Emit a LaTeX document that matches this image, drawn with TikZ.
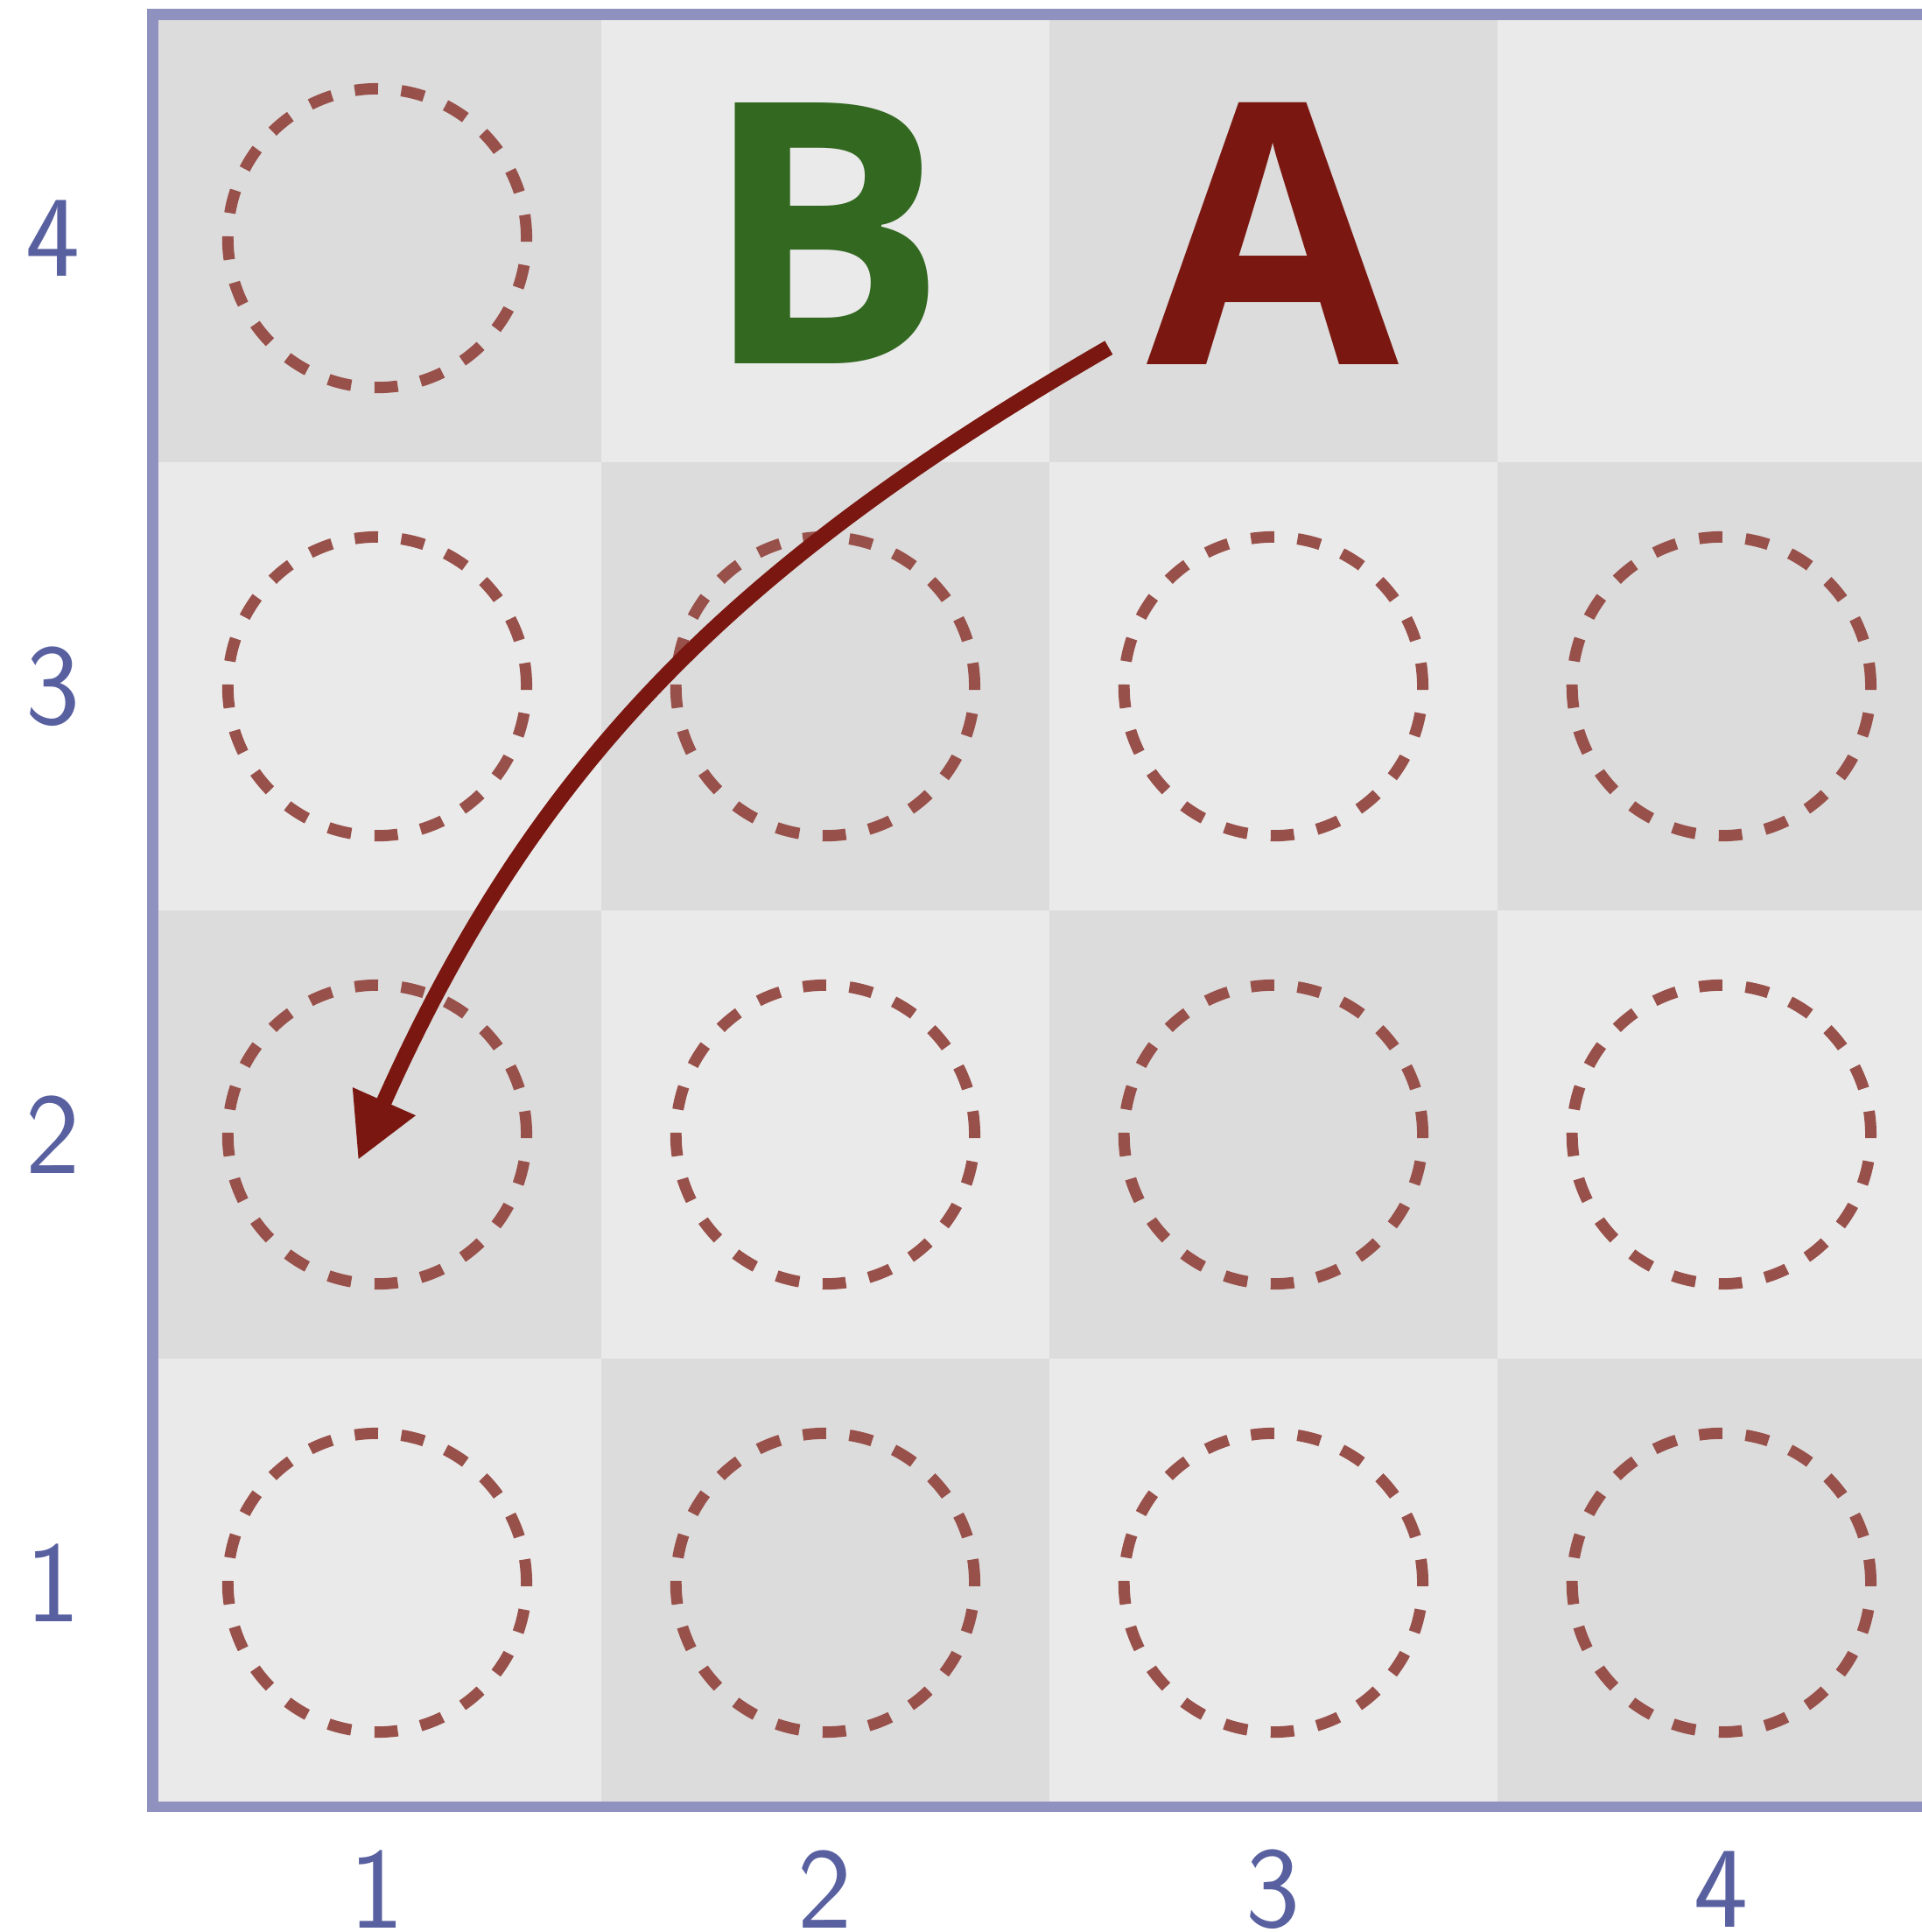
\documentclass[tikz,border=0pt]{standalone}
\usepackage{fontspec}
\newfontfamily\piecefont{Open Sans}
\usepackage{tikz}
\usetikzlibrary{positioning, arrows.meta}
\definecolor{celldark}{RGB}{220,220,220}
\definecolor{celllight}{RGB}{234,234,234}
\definecolor{boardframe}{RGB}{143,145,190}
\definecolor{labelblue}{RGB}{88,96,160}
\definecolor{spotred}{RGB}{152,80,74}
\definecolor{movered}{RGB}{122,23,16}
\definecolor{piecegreen}{RGB}{50,104,32}

\begin{document}
\begin{tikzpicture}[
      every node/.style={font=\sffamily\fontsize{22}{22}\selectfont},
      spot/.style={draw=spotred, circle, minimum size=2cm, inner sep=0pt, line width=0.076cm, dash pattern=on 0.1565cm off 0.1565cm},
      piece/.style={inner sep=0pt, font=\piecefont\bfseries\fontsize{69.6}{70}\selectfont},
      axis/.style={text=labelblue, inner sep=0pt},
      move/.style={draw=movered, line width=0.105cm, -{Triangle[length=0.43cm,width=0.43cm]}},
    ]
    \useasboundingbox (-1.025,-0.838) rectangle (11.842,12.094);
    \clip (-1.025,-0.838) rectangle (11.842,12.094);

    % board squares
    \foreach \i in {1,...,4}
      \foreach \j in {1,...,4} {
        \pgfmathtruncatemacro\odd{mod(\i+\j,2)}
        \ifnum\odd=1
          \fill[celldark] ({3*\i-3},{3*\j-3}) rectangle ({3*\i},{3*\j});
        \else
          \fill[celllight] ({3*\i-3},{3*\j-3}) rectangle ({3*\i},{3*\j});
        \fi
      }
    \draw[boardframe, line width=0.076cm] (0,0) rectangle (12,12);

    % empty spots
    \foreach \i/\j in {1/1,2/1,3/1,4/1,1/2,2/2,3/2,4/2,1/3,2/3,3/3,4/3,1/4}
      \node[spot] (c-\i-\j) at ({3*\i-1.5},{3*\j-1.5}) {};

    % axis labels
    \foreach \k in {1,...,4} {
      \node[axis] (row-\k) at (-0.668,{3*\k-1.5}) {\k};
      \node[axis] (col-\k) at ({3*\k-1.5},-0.551) {\k};
    }

    \node[piece, text=piecegreen] (B) at (4.5,10.53) {B};
    \node[piece, text=movered] (A) at (7.5,10.53) {A};
    \draw[move] ([shift={(-1.102,-0.763)}]A.center) to[out=210, in=66] ([shift={(-0.128,-0.171)}]c-1-2.center);
  \end{tikzpicture}
\end{document}
